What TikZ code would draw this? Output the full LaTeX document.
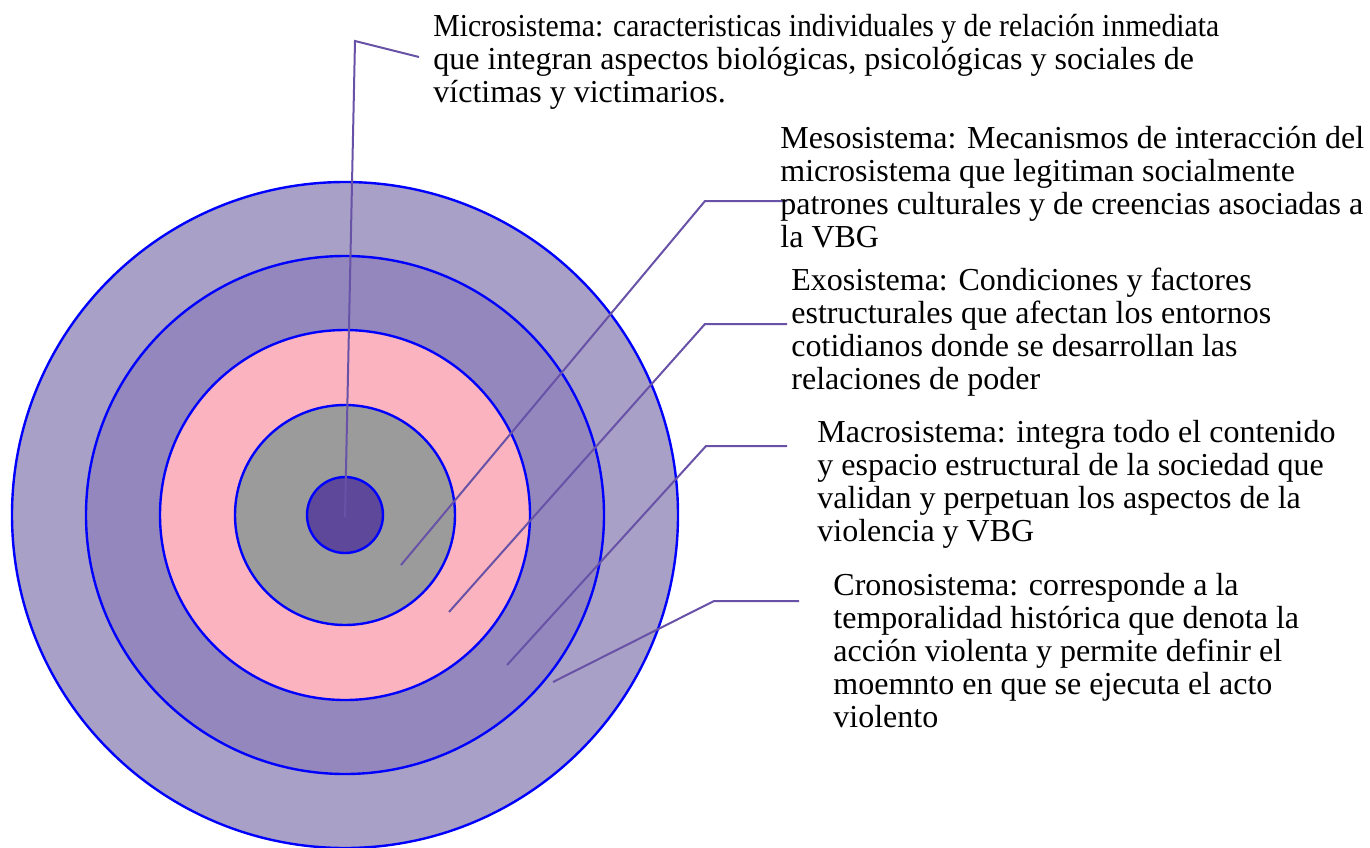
\documentclass[tikz,border=0pt]{standalone}
\usepackage{graphicx}
\usepackage{fontspec}
\setmainfont{Liberation Serif}
\usetikzlibrary{positioning}

\definecolor{cronofill}{HTML}{A8A0C6}
\definecolor{macrofill}{HTML}{9487BD}
\definecolor{exofill}{HTML}{FBB4BF}
\definecolor{mesofill}{HTML}{9B9B9B}
\definecolor{microfill}{HTML}{5E4899}
\definecolor{ringline}{HTML}{0000FF}
\definecolor{leadline}{HTML}{6852A8}

\begin{document}
\begin{tikzpicture}[%
		x=0.5pt,
		y=-0.5pt,
		ring/.style={%
			circle,
			inner sep=0pt,
			draw=ringline,
			line width=1.2pt
		},
		leader/.style={%
			draw=leadline,
			line width=1pt
		},
		desc/.style={%
			anchor=base west,
			align=left,
			inner sep=0pt,
			font=\fontsize{16}{16.5}\selectfont
		}
		]
		\useasboundingbox (0,0) rectangle (1370,847);
		\coordinate (c) at (345,515);
		
		\node[ring, fill=cronofill, minimum size=333pt] (r5) at (c) {};
		\node[ring, fill=macrofill, minimum size=259pt] (r4) at (c) {};
		\node[ring, fill=exofill,   minimum size=185pt] (r3) at (c) {};
		\node[ring, fill=mesofill,  minimum size=110pt] (r2) at (c) {};
		\node[ring, fill=microfill, minimum size=38pt]  (r1) at (c) {};
		
		\coordinate (microA) at (345,517);
		\coordinate (microB) at (355,41);
		\coordinate (microC) at (419,57);
		\coordinate (mesoA)  at (401,565);
		\coordinate (mesoB)  at (705,201);
		\coordinate (mesoC)  at (787,201);
		\coordinate (exoA)   at (449,612);
		\coordinate (exoB)   at (705,324);
		\coordinate (exoC)   at (787,324);
		\coordinate (macroA) at (507,665);
		\coordinate (macroB) at (706,446);
		\coordinate (macroC) at (787,446);
		\coordinate (cronoA) at (553,682);
		\coordinate (cronoB) at (714,601);
		\coordinate (cronoC) at (799,601);
		
		\draw[leader] (microA) -- (microB) -- (microC);
		\draw[leader] (mesoA) -- (mesoB) -- (mesoC);
		\draw[leader] (exoA) -- (exoB) -- (exoC);
		\draw[leader] (macroA) -- (macroB) -- (macroC);
		\draw[leader] (cronoA) -- (cronoB) -- (cronoC);
		
		\node[desc] (micro) at (433,102) {\scalebox{0.928}[1]{Microsistema: caracteristicas individuales y de relación inmediata}\\que integran aspectos biológicas, psicológicas y sociales de\\víctimas y victimarios.};
		\node[desc] (meso)  at (780,247) {Mesosistema: Mecanismos de interacción del\\microsistema que legitiman socialmente\\patrones culturales y de creencias asociadas a\\la VBG};
		\node[desc] (exo)   at (791,389) {Exosistema: Condiciones y factores\\estructurales que afectan los entornos\\cotidianos donde se desarrollan las\\relaciones de poder};
		\node[desc] (macro) at (817,541) {Macrosistema: integra todo el contenido\\y espacio estructural de la sociedad que\\validan y perpetuan los aspectos de la\\violencia y VBG};
		\node[desc] (crono) at (833,727) {Cronosistema: corresponde a la\\temporalidad histórica que denota la\\acción violenta y permite definir el\\moemnto en que se ejecuta el acto\\violento};
		\end{tikzpicture}
\end{document}
